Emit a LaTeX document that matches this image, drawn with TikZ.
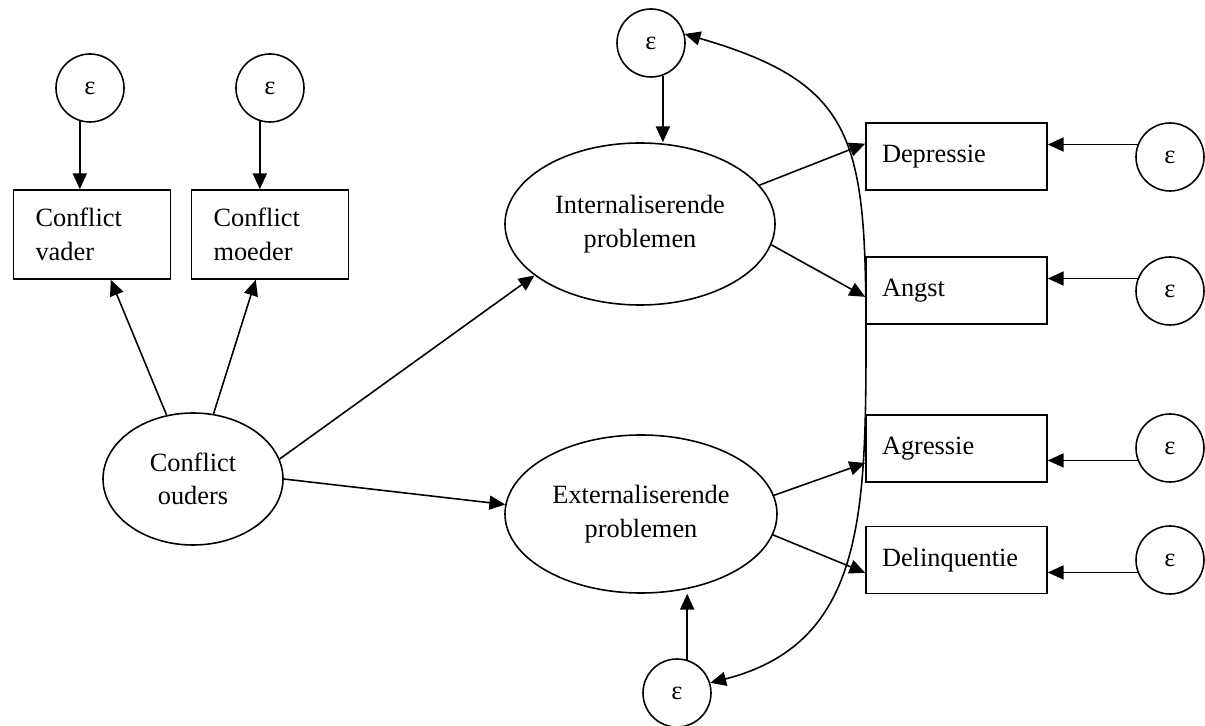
\documentclass[tikz,border=0pt]{standalone}
\usepackage{fontspec}
\setmainfont{Liberation Serif}
\usetikzlibrary{shapes.geometric,arrows.meta}

\begin{document}
\begin{tikzpicture}[line width=0.9pt, >={Triangle[length=9pt,width=8pt]},
    font=\fontsize{15}{19}\selectfont,
    err/.style={draw, circle, minimum size=1.36cm, inner sep=0pt},
    lat/.style={draw, ellipse, align=center, inner sep=0pt},
    ind/.style={draw, align=left, minimum height=1.34cm, inner xsep=0.32cm, text width=2.98cm},
    par/.style={draw, align=left, minimum height=1.78cm, inner xsep=0.44cm, text width=2.26cm}]
    \useasboundingbox (0,0) rectangle (24.1,14.52);
    \node[err] (ev) at (1.80, 12.76) {ε};
    \node[err] (em) at (5.40, 12.76) {ε};
    \node[par] (vader) at (1.84, 9.83) {Conflict\\vader};
    \node[par] (moeder) at (5.40, 9.83) {Conflict\\moeder};
    \node[lat, minimum width=3.6cm, minimum height=2.64cm] (ouders) at (3.86, 4.94) {Conflict\\ouders};
    \node[lat, minimum width=5.4cm, minimum height=3.24cm] (intl) at (12.80, 10.04) {Internaliserende\\problemen};
    \node[lat, minimum width=5.44cm, minimum height=3.16cm] (extl) at (12.82, 4.24) {Externaliserende\\problemen};
    \node[err] (ei) at (13.02, 13.66) {ε};
    \node[err] (ee) at (13.54, 0.66) {ε};
    \node[ind] (dep) at (19.13, 11.39) {Depressie};
    \node[ind] (ang) at (19.13, 8.71) {Angst};
    \node[ind] (agr) at (19.13, 5.55) {Agressie};
    \node[ind] (del) at (19.13, 3.32) {Delinquentie};
    \node[err] (e1) at (23.40, 11.38) {ε};
    \node[err] (e2) at (23.40, 8.70) {ε};
    \node[err] (e3) at (23.40, 5.56) {ε};
    \node[err] (e4) at (23.40, 3.32) {ε};
    \coordinate (bend) at (17.32, 7.72);
    % structural part
    \draw [->] (ev.-107) to (ev.-107 |- vader.north);
    \draw [->] (em.-107) to (em.-107 |- moeder.north);
    \draw [->] (ouders) to (vader);
    \draw [->] (ouders) to (moeder);
    \draw [->] (ouders.13) to (intl.206);
    \draw [->] (ouders.east) to (extl.176);
    \draw [->] (ei.-70) to (ei.-70 |- intl.north);
    \draw [->] (ee.73) to (ee.73 |- extl.south);
    % measurement part
    \draw [->] (intl.18) to (dep.172);
    \draw [->] (intl.-9) to (ang.184);
    \draw [->] (extl.8) to (agr.189);
    \draw [->] (extl.-9) to (del.188);
    \draw [->] (e1.159) to (e1.159 -| dep.east);
    \draw [->] (e2.159) to (e2.159 -| ang.east);
    \draw [->] (e3.201) to (e3.201 -| agr.east);
    \draw [->] (e4.201) to (e4.201 -| del.east);
    % correlated errors
    \draw [<->] (ei.15) .. controls (17.14, 12.84) and (17.32, 11.72) .. (bend)
        .. controls (17.32, 4.12) and (17.24, 1.64) .. (ee.17);
\end{tikzpicture}
\end{document}
